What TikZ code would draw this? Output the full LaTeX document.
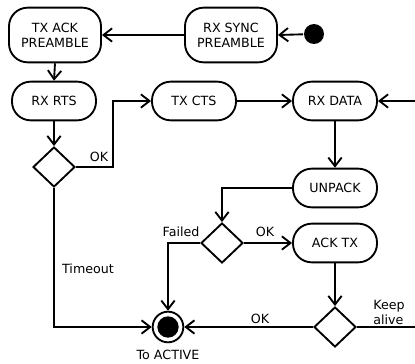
\documentclass[tikz,border=0pt]{standalone}
\usepackage{fontspec}
\setmainfont{DejaVu Sans}
\usetikzlibrary{arrows.meta,shapes.geometric}
\begin{document}
\begin{tikzpicture}[x=0.75pt,y=-0.75pt,
  line width=1.4pt,
  every node/.style={font=\fontsize{9.5}{11.25}\selectfont},
  state/.style={draw,rounded corners=14pt,minimum width=63pt,minimum height=29pt,align=center,inner sep=2pt},
  bigstate/.style={state,minimum width=69pt,minimum height=41pt},
  choice/.style={draw,diamond,minimum width=31.5pt,minimum height=30pt,inner sep=0pt},
  flow/.style={-{Straight Barb[length=6.5pt,width=10pt,line width=1.4pt]}},
  lbl/.style={inner sep=1pt}]
\useasboundingbox (0,0) rectangle (415,364);
\clip (0,0) rectangle (415,364);
\node[bigstate] (txack) at (55,35) {TX ACK\\PREAMBLE};
\node[bigstate] (rxsync) at (231,35) {RX SYNC\\PREAMBLE};
\node[circle,fill=black,minimum size=15pt,inner sep=0pt] (start) at (314,34) {};
\node[state] (rxrts) at (54,101) {RX RTS};
\node[state] (txcts) at (194,101) {TX CTS};
\node[state] (rxdata) at (335,101) {RX DATA};
\node[state] (unpack) at (335,188) {UNPACK};
\node[state] (acktx) at (335,243) {ACK TX};
\node[choice] (d1) at (54,167) {};
\node[choice] (d2) at (222,243) {};
\node[choice] (d3) at (335,327) {};
\node[circle,draw,minimum size=23pt,inner sep=0pt] (end) at (168,327) {};
\fill (end.center) circle (8pt);
\coordinate (loop) at (425,327);
\coordinate (okbend) at (113,167);

\draw[flow] (start) -- (rxsync.east);
\draw[flow] (rxsync.west) -- (txack.east);
\draw[flow] (txack.south) -- (rxrts.north);
\draw[flow] (rxrts.south) -- (d1.north);
\draw[flow] (d1.east) -- (okbend) |- (txcts.west);
\draw[flow] (txcts.east) -- (rxdata.west);
\draw[flow] (rxdata.south) -- (unpack.north);
\draw[flow] (unpack.west) -| (d2.north);
\draw[flow] (d2.east) -- (acktx.west);
\draw[flow] (d2.west) -| (end.north);
\draw[flow] (acktx.south) -- (d3.north);
\draw[flow] (d3.west) -- (end.east);
\draw[flow] (d1.south) |- (end.west);
\draw[flow] (d3.east) -- (loop) |- (rxdata.east);

\node[lbl] (lok1) at (99,157) {OK};
\node[lbl] (lfail) at (181,232) {Failed};
\node[lbl] (lok2) at (265,232) {OK};
\node[lbl] (ltime) at (88,269) {Timeout};
\node[lbl] (lok3) at (260,319) {OK};
\node[lbl,align=left] (lkeep) at (389,312) {Keep\\alive};
\node[lbl] (lact) at (168,355) {To ACTIVE};
\end{tikzpicture}
\end{document}
